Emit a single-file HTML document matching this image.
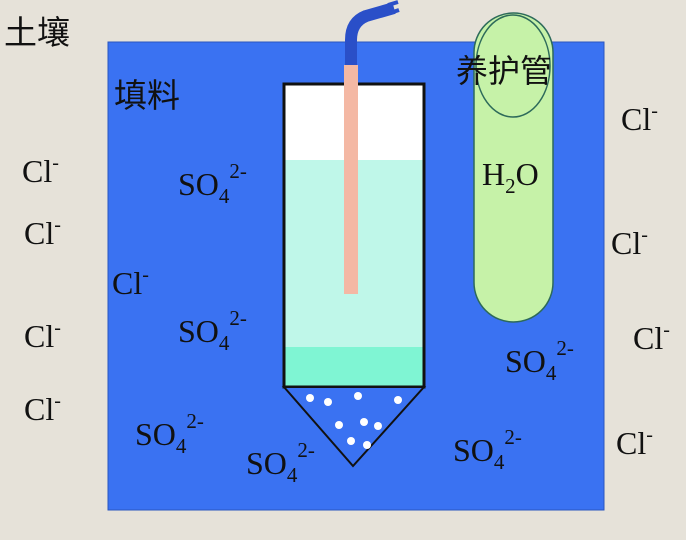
<!DOCTYPE html>
<html><head><meta charset="utf-8"><style>
body{margin:0;width:686px;height:540px;overflow:hidden;background:#e6e2d9}
svg{display:block}
text{font-family:"Liberation Serif","Noto Serif CJK SC",serif;fill:#111}
.cj{font-family:"Liberation Sans","Noto Sans CJK SC",sans-serif}
</style></head><body>
<svg width="686" height="540" viewBox="0 0 686 540">
<rect width="686" height="540" fill="#e6e2d9"/>
<rect x="108" y="42" width="496" height="468" fill="#3a72f2" stroke="#2a55c0" stroke-width="1"/>
<rect x="474" y="13" width="79" height="309" rx="39.5" fill="#c6f2a8" stroke="#2d6a5a" stroke-width="1.5"/>
<ellipse cx="513" cy="66" rx="37" ry="51" fill="none" stroke="#2d6a5a" stroke-width="1.5"/>
<rect x="284" y="84" width="140" height="76" fill="#ffffff"/>
<rect x="284" y="160" width="140" height="187" fill="#bff7e9"/>
<rect x="284" y="347" width="140" height="40" fill="#7ff5d3"/>
<rect x="284" y="84" width="140" height="303" fill="none" stroke="#111" stroke-width="3"/>
<polygon points="284,387 424,387 353,466" fill="#3a72f2" stroke="#111" stroke-width="2"/>
<g fill="#fff">
<circle cx="310" cy="398" r="4"/><circle cx="328" cy="402" r="4"/><circle cx="358" cy="396" r="4"/><circle cx="398" cy="400" r="4"/>
<circle cx="339" cy="425" r="4"/><circle cx="364" cy="422" r="4"/><circle cx="378" cy="426" r="4"/><circle cx="351" cy="441" r="4"/><circle cx="367" cy="445" r="4"/>
</g>
<path d="M351 66 L351 40 Q351 22 366 16 L394 8" fill="none" stroke="#2a4fc8" stroke-width="12" stroke-linecap="butt"/>
<path d="M388 5 L398 2 M390 13 L399 10" stroke="#2a4fc8" stroke-width="4"/>
<rect x="344" y="65" width="14" height="229" fill="#f4b8a4"/>
<text x="4" y="44" font-size="33" class="cj">土壤</text>
<text x="114" y="107" font-size="33" class="cj">填料</text>
<text x="456" y="82" font-size="32" class="cj">养护管</text>
<text x="482" y="185" font-size="32">H<tspan font-size="21" dy="8">2</tspan><tspan dy="-8">O</tspan></text>
<g font-size="32">
<text x="22" y="182">Cl<tspan font-size="20" dy="-13">-</tspan></text>
<text x="24" y="244">Cl<tspan font-size="20" dy="-13">-</tspan></text>
<text x="112" y="294">Cl<tspan font-size="20" dy="-13">-</tspan></text>
<text x="24" y="347">Cl<tspan font-size="20" dy="-13">-</tspan></text>
<text x="24" y="420">Cl<tspan font-size="20" dy="-13">-</tspan></text>
<text x="621" y="130">Cl<tspan font-size="20" dy="-13">-</tspan></text>
<text x="611" y="254">Cl<tspan font-size="20" dy="-13">-</tspan></text>
<text x="633" y="349">Cl<tspan font-size="20" dy="-13">-</tspan></text>
<text x="616" y="454">Cl<tspan font-size="20" dy="-13">-</tspan></text>
</g>
<g font-size="32">
<text x="178" y="195">SO<tspan font-size="21" dy="8">4</tspan><tspan font-size="21" dy="-25">2-</tspan></text>
<text x="178" y="342">SO<tspan font-size="21" dy="8">4</tspan><tspan font-size="21" dy="-25">2-</tspan></text>
<text x="135" y="445">SO<tspan font-size="21" dy="8">4</tspan><tspan font-size="21" dy="-25">2-</tspan></text>
<text x="246" y="474">SO<tspan font-size="21" dy="8">4</tspan><tspan font-size="21" dy="-25">2-</tspan></text>
<text x="505" y="372">SO<tspan font-size="21" dy="8">4</tspan><tspan font-size="21" dy="-25">2-</tspan></text>
<text x="453" y="461">SO<tspan font-size="21" dy="8">4</tspan><tspan font-size="21" dy="-25">2-</tspan></text>
</g>
</svg>
</body></html>
